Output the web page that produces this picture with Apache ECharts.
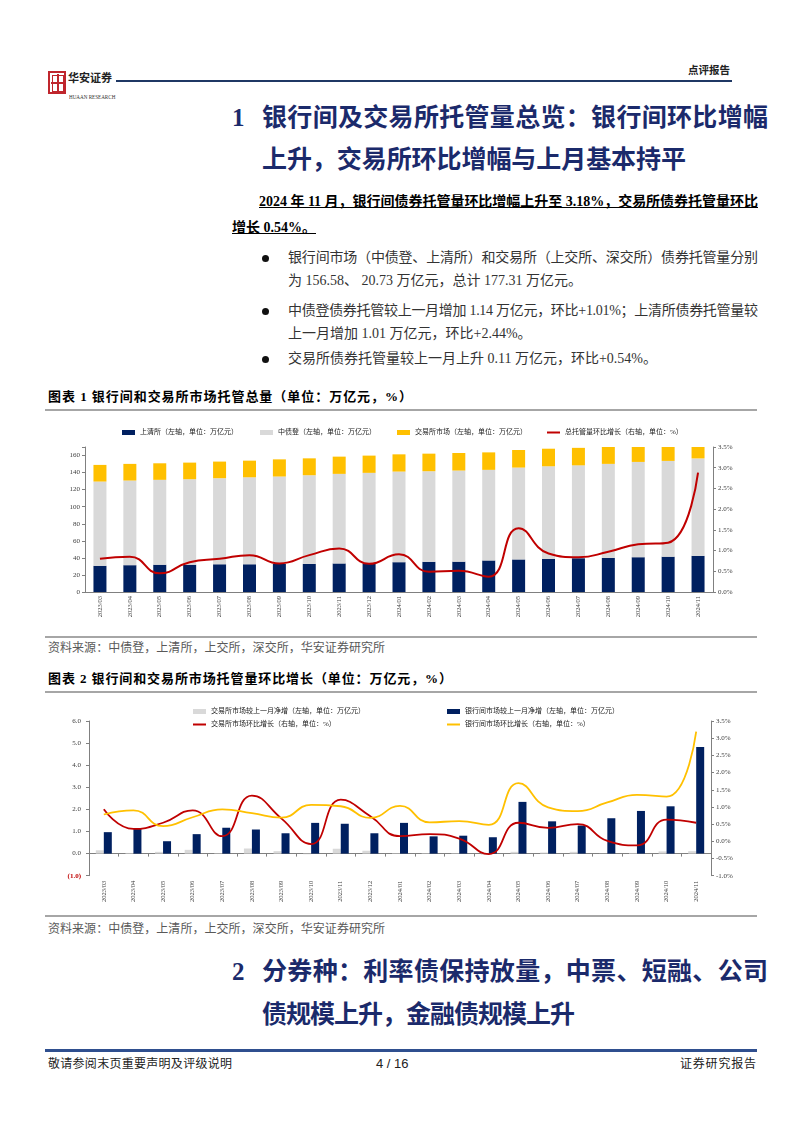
<!DOCTYPE html>
<html><head><meta charset="utf-8">
<script src="https://cdn.jsdelivr.net/npm/echarts@6/dist/echarts.min.js"></script>
<style>
body{margin:0;background:#fff;}
#page{position:relative;width:802px;height:1133px;overflow:hidden;font-family:"Liberation Serif","Noto Sans CJK SC",serif;color:#000;background:#fff;}
.t{position:absolute;white-space:nowrap;line-height:1;}
.h{color:#1b2a6b;font-weight:bold;font-size:25px;}
.b{font-size:14px;color:#333;}
.ln{position:absolute;}
.dot{position:absolute;width:7px;height:7px;border-radius:50%;background:#111;}
</style></head>
<body><div id="page">
<!-- header -->
<div class="ln" style="left:48px;top:71px;width:14px;height:19px;border:2px solid #c0262d;background:#fff;"></div>
<div class="ln" style="left:52px;top:75px;width:10px;height:15px;border:1px solid #c0262d;"></div>
<div class="ln" style="left:57px;top:74px;width:2px;height:19px;background:#c0262d;"></div>
<div class="ln" style="left:51px;top:82px;width:14px;height:2px;background:#c0262d;"></div>
<div class="t" data-w="44" style="left:68px;top:73px;font-size:11px;font-weight:bold;color:#222;">华安证券</div>
<div class="t" style="left:69px;top:94px;font-size:6px;color:#333;transform:scaleX(0.85);transform-origin:left top;">HUAAN RESEARCH</div>
<div class="ln" style="left:116px;top:80px;width:616px;height:1.5px;background:#1f3864;"></div>
<div class="t" data-w="42" style="left:688px;top:66px;font-size:10.5px;font-weight:bold;color:#222;">点评报告</div>

<!-- heading 1 -->
<div class="t h" style="left:232px;top:105px;">1</div>
<div class="t h" data-w="506" style="left:262px;top:105px;">银行间及交易所托管量总览：银行间环比增幅</div>
<div class="t h" data-w="424" style="left:262px;top:147px;">上升，交易所环比增幅与上月基本持平</div>

<!-- paragraph -->
<div class="t" data-w="499" style="left:259px;top:195px;font-size:14px;font-weight:bold;text-decoration:underline;">2024 年 11 月，银行间债券托管量环比增幅上升至 3.18%，交易所债券托管量环比</div>
<div class="t" style="left:232px;top:221px;font-size:14px;font-weight:bold;text-decoration:underline;">增长 0.54%。</div>

<div class="dot" style="left:262px;top:255px;"></div>
<div class="t b" data-w="470" style="left:288px;top:251px;">银行间市场（中债登、上清所）和交易所（上交所、深交所）债券托管量分别</div>
<div class="t b" style="left:288px;top:274px;">为 156.58、 20.73 万亿元，总计 177.31 万亿元。</div>
<div class="dot" style="left:262px;top:308px;"></div>
<div class="t b" data-w="470" style="left:288px;top:304px;">中债登债券托管较上一月增加 1.14 万亿元，环比+1.01%；上清所债券托管量较</div>
<div class="t b" style="left:288px;top:327px;">上一月增加 1.01 万亿元，环比+2.44%。</div>
<div class="dot" style="left:262px;top:356px;"></div>
<div class="t b" style="left:288px;top:352px;">交易所债券托管量较上一月上升 0.11 万亿元，环比+0.54%。</div>

<!-- chart 1 -->
<div class="t" data-w="364" style="left:48px;top:390px;font-size:13px;font-weight:bold;">图表 1 银行间和交易所市场托管总量（单位：万亿元，%）</div>
<div class="ln" style="left:45px;top:409px;width:712px;height:2px;background:#a6a6a6;"></div>
<div id="c1" style="position:absolute;left:40px;top:420px;width:720px;height:210px;"></div>
<div class="ln" style="left:45px;top:636px;width:712px;height:1.5px;background:#a6a6a6;"></div>
<div class="t" data-w="337" style="left:48px;top:642px;font-size:12px;color:#595959;">资料来源：中债登，上清所，上交所，深交所，华安证券研究所</div>

<!-- chart 2 -->
<div class="t" data-w="404" style="left:48px;top:672px;font-size:13px;font-weight:bold;">图表 2 银行间和交易所市场托管量环比增长（单位：万亿元，%）</div>
<div class="ln" style="left:45px;top:691px;width:712px;height:2px;background:#a6a6a6;"></div>
<div id="c2" style="position:absolute;left:40px;top:700px;width:720px;height:205px;"></div>
<div class="ln" style="left:45px;top:915px;width:712px;height:1.5px;background:#a6a6a6;"></div>
<div class="t" data-w="337" style="left:48px;top:923px;font-size:12px;color:#595959;">资料来源：中债登，上清所，上交所，深交所，华安证券研究所</div>

<!-- heading 2 -->
<div class="t h" style="left:232px;top:959px;">2</div>
<div class="t h" data-w="506" style="left:262px;top:959px;">分券种：利率债保持放量，中票、短融、公司</div>
<div class="t h" data-w="313" style="left:262px;top:1002px;">债规模上升，金融债规模上升</div>

<!-- footer -->
<div class="ln" style="left:45px;top:1049px;width:712px;height:3px;background:#2f4f8f;"></div>
<div class="t" data-w="184" style="left:48px;top:1058px;font-size:12px;color:#222;">敬请参阅末页重要声明及评级说明</div>
<div class="t" style="left:376px;top:1057px;font-size:13px;font-family:'Liberation Sans',sans-serif;color:#222;">4 / 16</div>
<div class="t" data-w="76" style="left:680px;top:1058px;font-size:12px;color:#222;">证券研究报告</div>
</div>
<script>
// fit text widths
document.querySelectorAll('[data-w]').forEach(function(el){
  var w=+el.dataset.w;
  var nat=el.getBoundingClientRect().width;
  var n=Array.from(el.textContent).length;
  if(n>1){el.style.letterSpacing=((w-nat)/(n-1))+'px';}
});

// ---------------- data ----------------
const categories=['2023/03','2023/04','2023/05','2023/06','2023/07','2023/08','2023/09','2023/10','2023/11','2023/12','2024/01','2024/02','2024/03','2024/04','2024/05','2024/06','2024/07','2024/08','2024/09','2024/10','2024/11'];
// chart 1 (万亿元, %)
const schHold=[30.7,31.5,32.0,32.0,32.5,32.5,33.0,33.0,33.5,33.5,35.0,35.4,35.6,37.0,38.2,38.8,39.7,40.0,40.8,41.4,42.4];
const ccdcHold=[98.8,99.2,99.5,100.2,100.9,102.0,102.4,103.9,105.0,106.2,106.2,106.2,106.8,106.2,107.7,108.6,108.8,110.2,111.7,112.3,114.2];
const exchHold=[19.5,19.5,19.4,19.5,19.5,19.5,20.1,19.8,20.2,20.2,20.2,20.6,20.6,20.5,20.6,20.6,20.5,20.6,20.6,20.6,20.73];
const totalGrowth=[0.80,0.85,0.45,0.72,0.80,0.89,0.69,0.89,1.05,0.68,0.91,0.49,0.51,0.37,1.54,0.93,0.84,0.97,1.15,1.19,2.88];
// chart 2
const exchNet=[0.15,0.03,0.08,0.17,0.02,0.23,0.11,-0.03,0.22,0.13,0.02,0.02,0.02,-0.05,0.08,0.05,0.08,0.01,0.03,0.10,0.11];
const bankNet=[0.97,1.14,0.56,0.88,1.17,1.09,0.92,1.39,1.35,0.92,1.39,0.78,0.81,0.74,2.34,1.46,1.27,1.60,1.93,2.14,4.82];
const exchGrowth=[0.93,0.36,0.54,0.90,0.15,1.33,0.66,-0.08,1.21,0.73,0.15,0.21,0.08,-0.37,0.54,0.39,0.50,0.01,-0.12,0.63,0.54];
const bankGrowth=[0.78,0.90,0.44,0.70,0.93,0.82,0.69,1.06,1.02,0.68,1.03,0.55,0.59,0.48,1.69,0.99,0.88,1.13,1.35,1.30,3.19];
// axis ranges
const leftTicks1={min:0,max:170,interval:20};
const rightTicks1={min:0,max:3.5,interval:0.5};
const leftTicks2={min:-1,max:6,interval:1};
const rightTicks2={min:-1,max:3.5,interval:0.5};

const FONT='Liberation Serif, Noto Sans CJK SC';
const AX='#808080', LBL='#404040';
const NAVY='#002060', GRAY='#d9d9d9', GOLD='#ffc000', RED='#c00000';

function leg(name,left,top,h){
  return {left:left,top:top,data:[name],icon:'rect',itemWidth:13,itemHeight:h,itemGap:4,padding:0,
    textStyle:{fontSize:7,color:'#1a1a1a',fontFamily:FONT}};
}

const c1=echarts.init(document.getElementById('c1'));
c1.setOption({
  animation:false,
  textStyle:{fontFamily:FONT},
  grid:{left:45,right:47,top:27,bottom:38},
  legend:[
    leg('上清所（左轴，单位：万亿元）',82,9,5),
    leg('中债登（左轴，单位：万亿元）',220,9,5),
    leg('交易所市场（左轴，单位：万亿元）',357,9,5),
    leg('总托管量环比增长（右轴，单位：%）',507,9,2)
  ],
  xAxis:{type:'category',data:categories,
    axisLine:{lineStyle:{color:AX}},axisTick:{show:false},
    axisLabel:{rotate:90,fontSize:6.5,color:LBL,interval:0,margin:4}},
  yAxis:[
    {type:'value',min:leftTicks1.min,max:leftTicks1.max,interval:leftTicks1.interval,splitLine:{show:false},
     axisLine:{show:true,lineStyle:{color:AX}},axisTick:{show:true,length:3,lineStyle:{color:AX}},
     axisLabel:{fontSize:7,color:LBL,margin:5,formatter:function(v){return v>160?'':String(v);}}},
    {type:'value',position:'right',min:rightTicks1.min,max:rightTicks1.max,interval:rightTicks1.interval,splitLine:{show:false},
     axisLine:{show:true,lineStyle:{color:AX}},axisTick:{show:true,length:3,lineStyle:{color:AX}},
     axisLabel:{fontSize:7,color:LBL,margin:5,formatter:function(v){return v.toFixed(1)+'%';}}}
  ],
  series:[
    {name:'上清所（左轴，单位：万亿元）',type:'bar',stack:'s',barWidth:13,data:schHold,itemStyle:{color:NAVY}},
    {name:'中债登（左轴，单位：万亿元）',type:'bar',stack:'s',barWidth:13,data:ccdcHold,itemStyle:{color:GRAY}},
    {name:'交易所市场（左轴，单位：万亿元）',type:'bar',stack:'s',barWidth:13,data:exchHold,itemStyle:{color:GOLD}},
    {name:'总托管量环比增长（右轴，单位：%）',type:'line',yAxisIndex:1,data:totalGrowth,smooth:0.5,symbol:'none',
     lineStyle:{color:RED,width:2},itemStyle:{color:RED}}
  ]
});

const c2=echarts.init(document.getElementById('c2'));
c2.setOption({
  animation:false,
  textStyle:{fontFamily:FONT},
  grid:{left:49,right:49,top:21,bottom:16.5},
  legend:[
    leg('交易所市场较上一月净增（左轴，单位：万亿元）',153,8,5),
    leg('交易所市场环比增长（右轴，单位：%）',153,21,2),
    leg('银行间市场较上一月净增（左轴，单位：万亿元）',407,8,5),
    leg('银行间市场环比增长（右轴，单位：%）',407,21,2)
  ],
  xAxis:{type:'category',data:categories,
    axisLine:{onZero:true,onZeroAxisIndex:0,lineStyle:{color:AX}},
    axisTick:{show:true,length:3,lineStyle:{color:AX}},
    axisLabel:{rotate:90,fontSize:6.5,color:LBL,interval:0,margin:5}},
  yAxis:[
    {type:'value',min:leftTicks2.min,max:leftTicks2.max,interval:leftTicks2.interval,splitLine:{show:false},
     axisLine:{show:true,lineStyle:{color:AX}},axisTick:{show:true,length:3,lineStyle:{color:AX}},
     axisLabel:{fontSize:7,color:LBL,margin:8,
       formatter:function(v){return v<0?'{n|('+Math.abs(v).toFixed(1)+')}':v.toFixed(1);},
       rich:{n:{color:'#c00000',fontWeight:'bold',fontSize:7,fontFamily:FONT}}}},
    {type:'value',position:'right',min:rightTicks2.min,max:rightTicks2.max,interval:rightTicks2.interval,splitLine:{show:false},
     axisLine:{show:true,lineStyle:{color:AX}},axisTick:{show:true,length:3,lineStyle:{color:AX}},
     axisLabel:{fontSize:7,color:LBL,margin:5,formatter:function(v){return v.toFixed(1)+'%';}}}
  ],
  series:[
    {name:'交易所市场较上一月净增（左轴，单位：万亿元）',type:'bar',barWidth:8,barGap:'0%',data:exchNet,itemStyle:{color:GRAY}},
    {name:'银行间市场较上一月净增（左轴，单位：万亿元）',type:'bar',barWidth:8,barGap:'0%',data:bankNet,itemStyle:{color:NAVY}},
    {name:'交易所市场环比增长（右轴，单位：%）',type:'line',yAxisIndex:1,data:exchGrowth,smooth:0.5,symbol:'none',
     lineStyle:{color:RED,width:1.8},itemStyle:{color:RED}},
    {name:'银行间市场环比增长（右轴，单位：%）',type:'line',yAxisIndex:1,data:bankGrowth,smooth:0.5,symbol:'none',
     lineStyle:{color:GOLD,width:1.8},itemStyle:{color:GOLD}}
  ]
});
</script>
</body></html>
